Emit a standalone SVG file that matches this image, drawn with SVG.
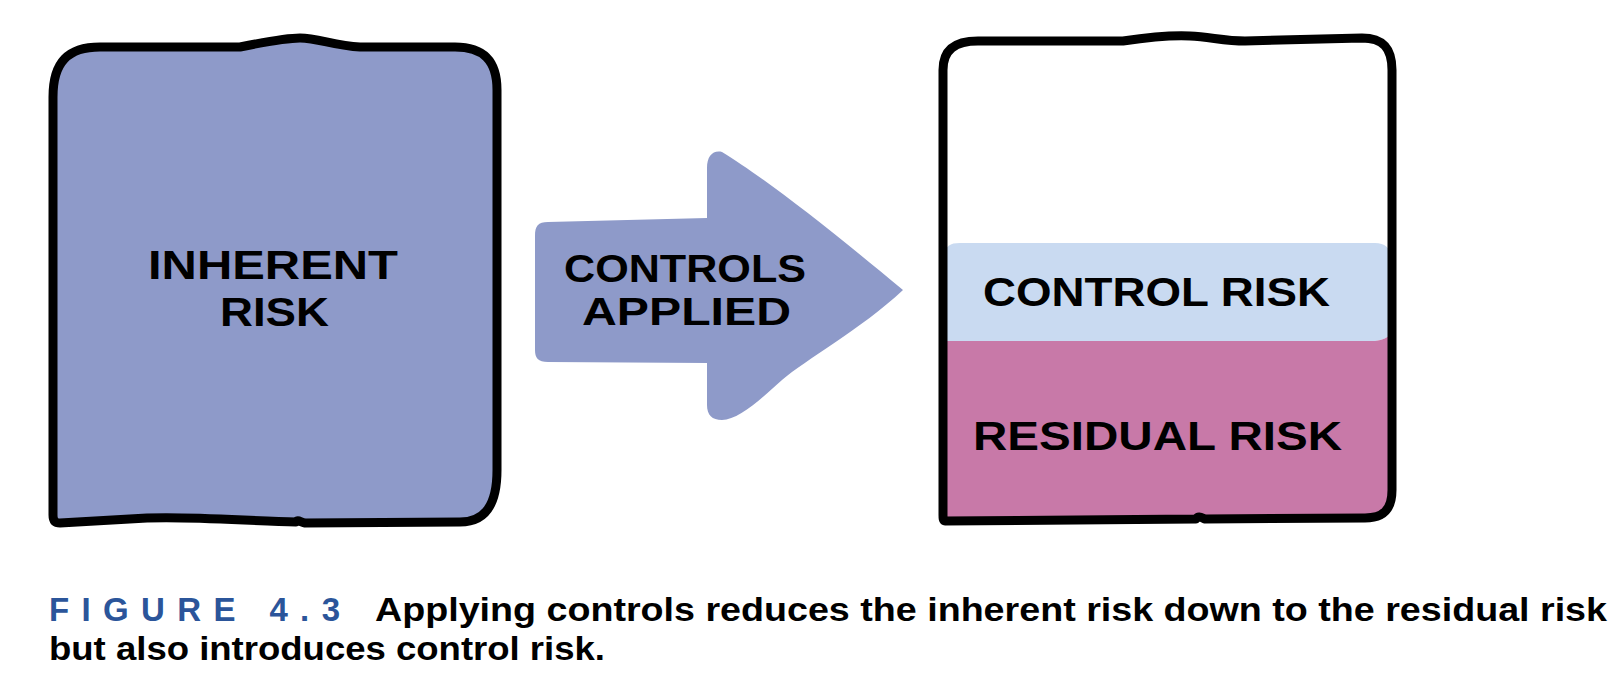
<svg xmlns="http://www.w3.org/2000/svg" width="1621" height="689" viewBox="0 0 1621 689">
<style>
.outline{fill:none;stroke:#000;stroke-width:9;stroke-linejoin:round;stroke-linecap:round}
.blue{fill:#8E9AC9}
.hand{font-family:"Liberation Sans","Noto Sans",sans-serif;font-weight:700;fill:#000}
.cap{font-family:"Liberation Sans","Noto Sans",sans-serif;font-weight:700;fill:#000;font-size:34px}
.fig{font-family:"Liberation Sans","Noto Sans",sans-serif;font-weight:700;fill:#2B559A;font-size:33px}
</style>
<rect width="1621" height="689" fill="#fff"/>
<g id="inherent-risk">
<path class="blue" d="M53,97 C53,62 68,47 100,47 L240,47 C265,42 285,38 300,38 C318,38 335,46 360,47 L455,47 C483,47 497,60 497,90 L497,470 C497,505 485,522 460,522 L305,523 C300,522 298,519 296,522 C250,521 190,516 147,518 L60,523 C54,523 53,519 53,515 Z"/>
<path class="outline" d="M53,97 C53,62 68,47 100,47 L240,47 C265,42 285,38 300,38 C318,38 335,46 360,47 L455,47 C483,47 497,60 497,90 L497,470 C497,505 485,522 460,522 L305,523 C300,522 298,519 296,522 C250,521 190,516 147,518 L60,523 C54,523 53,519 53,515 Z"/>
<text class="hand" x="148" y="279" font-size="40" textLength="250" lengthAdjust="spacingAndGlyphs">INHERENT</text>
<text class="hand" x="220" y="326" font-size="40" textLength="109" lengthAdjust="spacingAndGlyphs">RISK</text>
</g>
<g id="connectors">
<g id="controls-applied">
<path class="blue" d="M535,236 C535,226 538,222 548,222 L707,218 L707,168 C707,156 713,150 722,152 C760,175 825,225 903,290 C860,330 805,360 782,380 C760,400 738,420 722,420 C712,420 707,415 707,405 L707,363 L548,362 C538,362 535,358 535,350 Z"/>
<text class="hand" x="564" y="282" font-size="38" textLength="242" lengthAdjust="spacingAndGlyphs">CONTROLS</text>
<text class="hand" x="582" y="325" font-size="38" textLength="209" lengthAdjust="spacingAndGlyphs">APPLIED</text>
</g>
</g>
<g id="result-risk">
<path fill="#fff" d="M943,70 C943,50 955,41 978,41 L1362,38 C1383,38 1392,48 1392,70 L1392,490 C1392,508 1383,517 1365,517 L943,519 Z"/>
<g id="control-risk">
<path fill="#C9DAF1" d="M945,255 C945,246 950,243 960,243 L1375,243 C1385,243 1390,248 1390,255 L1390,335 C1388,337 1383,340 1375,341 L945,341 Z"/>
<text class="hand" x="983" y="306" font-size="40" textLength="347" lengthAdjust="spacingAndGlyphs">CONTROL RISK</text>
</g>
<g id="residual-risk">
<path fill="#C879A8" d="M945,341 L1375,341 C1383,340 1388,337 1390,335 L1390,490 C1390,507 1382,515 1365,515 L945,519 Z"/>
<text class="hand" x="973" y="450" font-size="41" textLength="369" lengthAdjust="spacingAndGlyphs">RESIDUAL RISK</text>
</g>
<path class="outline" d="M943,70 C943,50 955,41 978,41 L1123,41 C1150,37 1170,35 1190,36 C1210,37 1225,41 1245,41 L1362,38 C1383,38 1392,48 1392,70 L1392,490 C1392,510 1383,518 1365,518 L1205,519 C1200,517 1198,516 1196,519 L945,521 C943,521 943,518 943,515 Z"/>
</g>
<g id="caption">
<text class="fig" x="49" y="621" textLength="291" lengthAdjust="spacing">FIGURE 4.3</text>
<text class="cap" x="375" y="621" textLength="1232" lengthAdjust="spacingAndGlyphs">Applying controls reduces the inherent risk down to the residual risk</text>
<text class="cap" x="49" y="660" textLength="556" lengthAdjust="spacingAndGlyphs">but also introduces control risk.</text>
</g>
</svg>
